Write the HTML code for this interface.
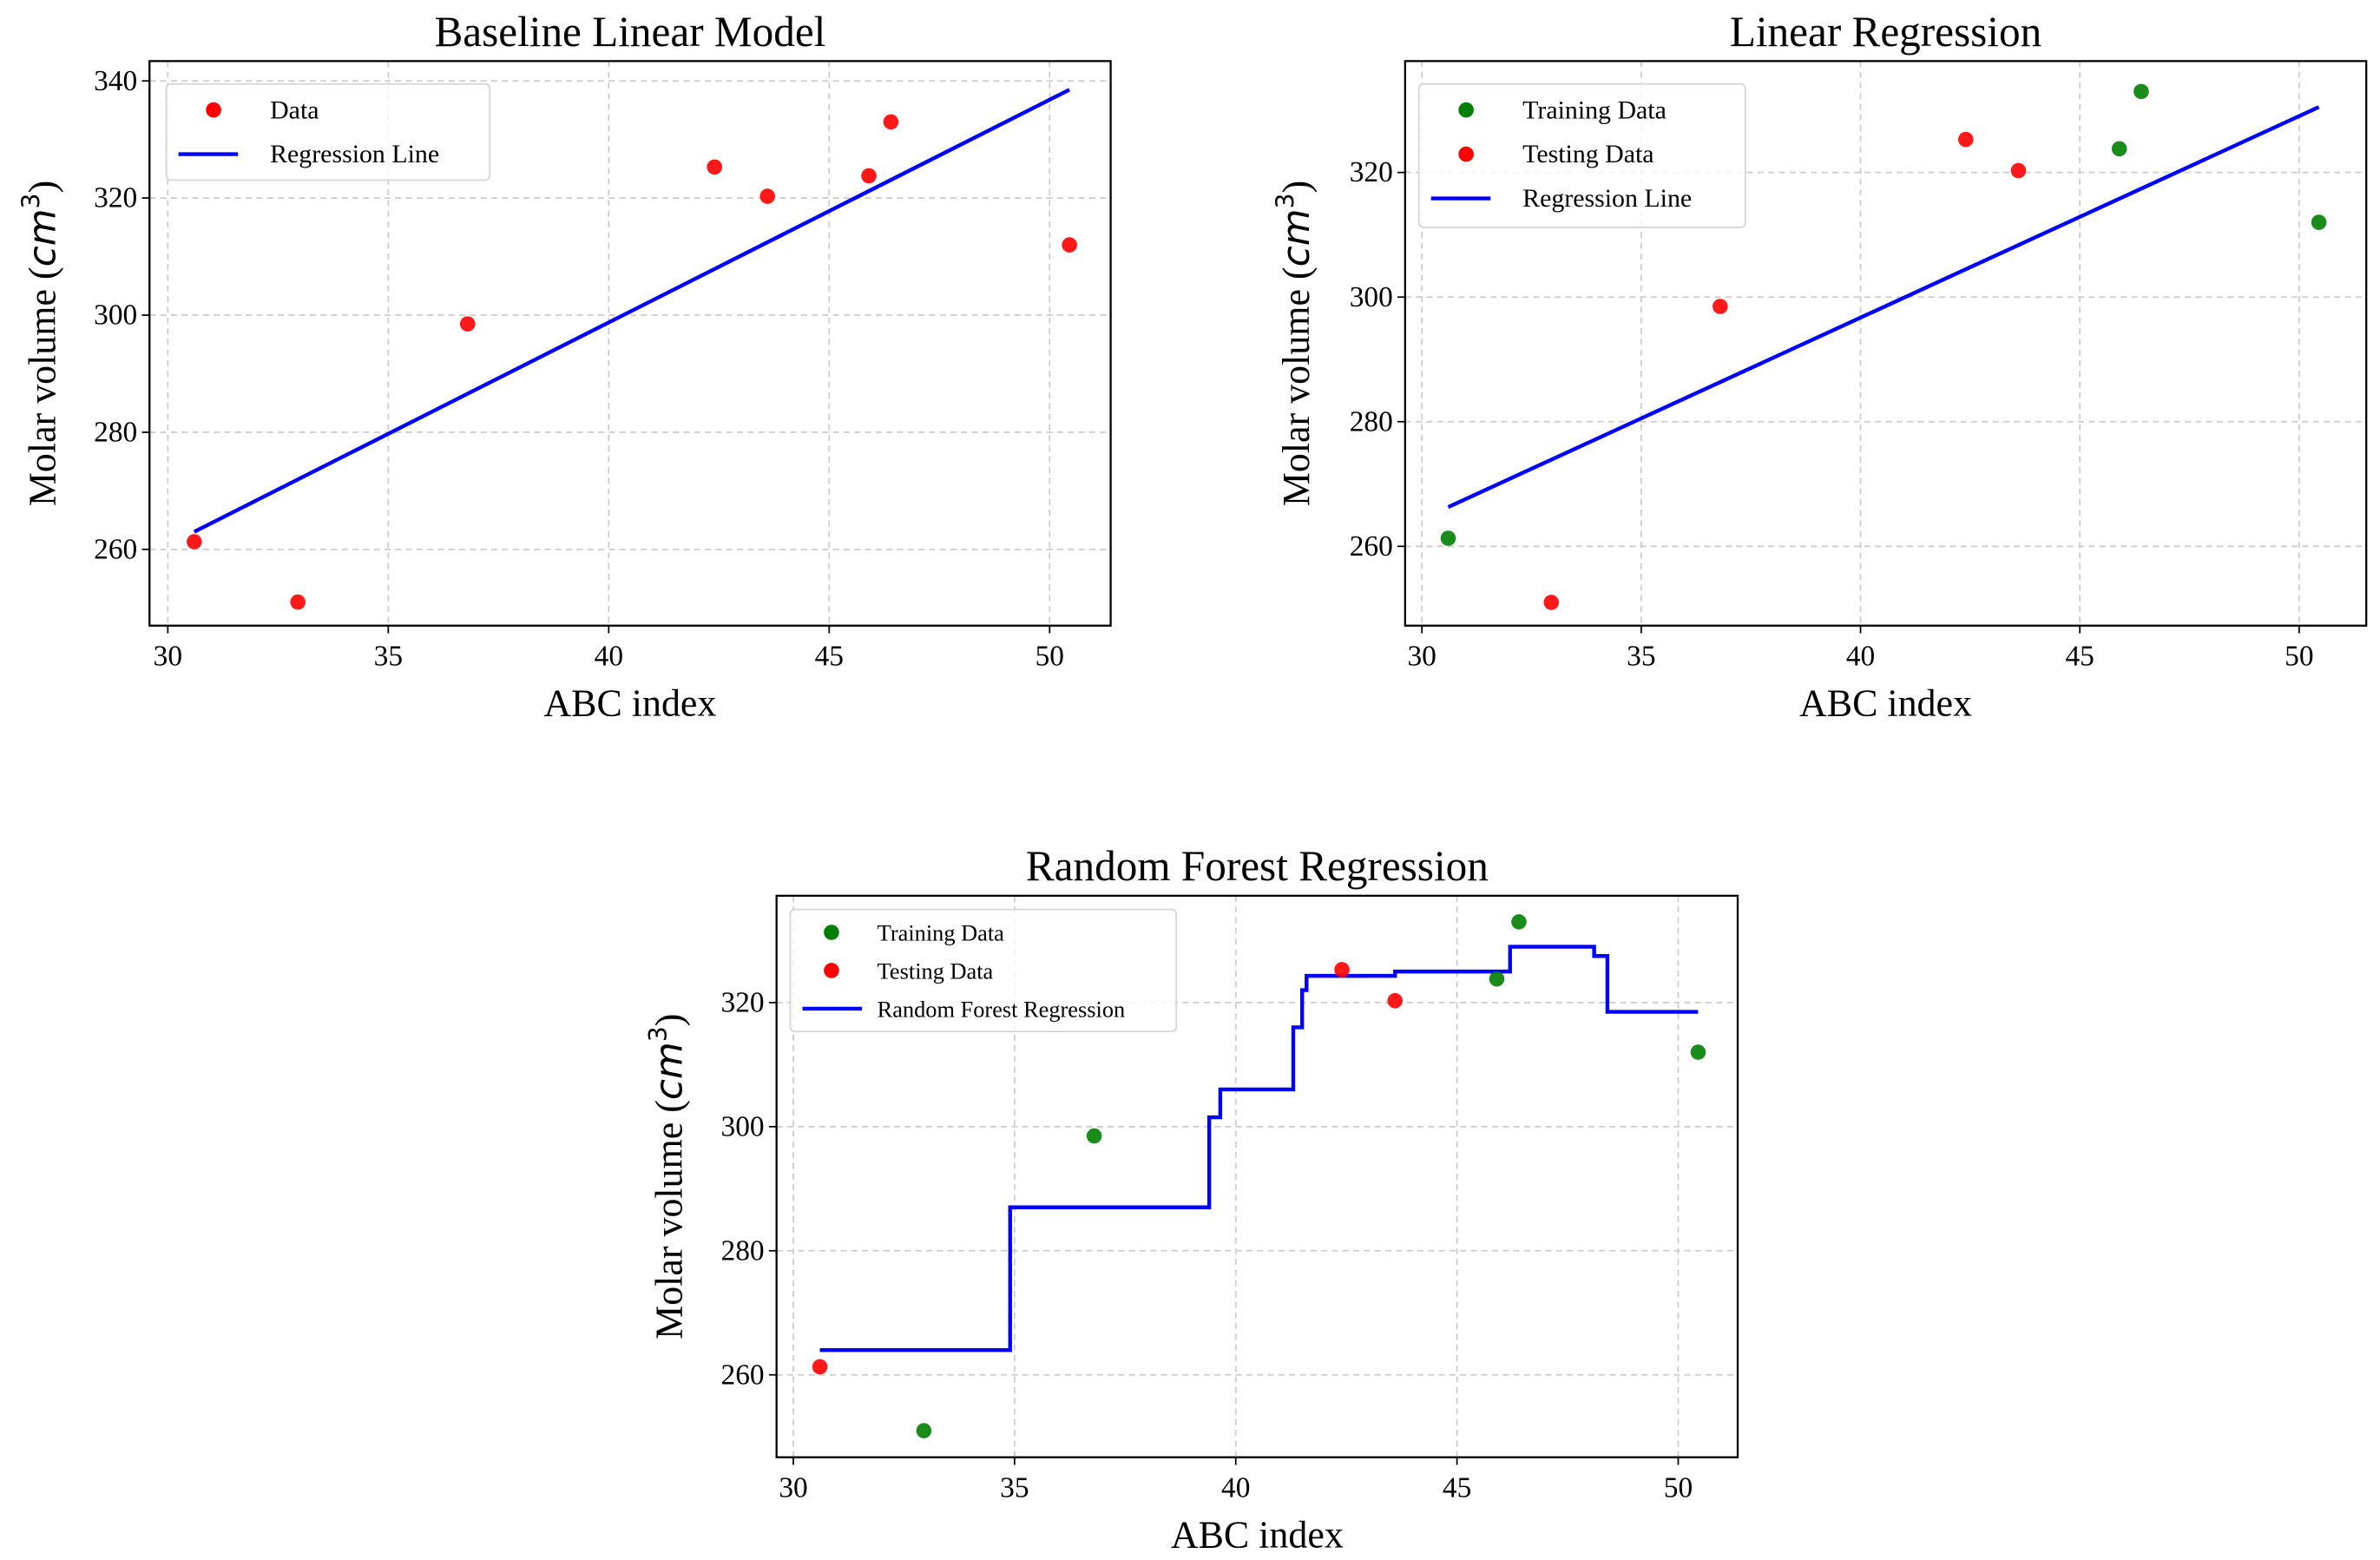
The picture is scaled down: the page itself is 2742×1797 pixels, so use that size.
<!DOCTYPE html>
<html><head><meta charset="utf-8"><style>
html,body{margin:0;padding:0;background:#fff}
svg{display:block}
text{font-family:"Liberation Serif",serif;fill:#000}
</style></head><body>
<svg id="fig" width="2742" height="1797" viewBox="0 0 1560 1022.3" xmlns="http://www.w3.org/2000/svg"></svg>
<script>
const abcIndex=[30.6,32.95,36.8,42.4,43.6,45.9,46.4,50.45];
const molarVol=[261.3,251,298.5,325.3,320.3,323.8,333,312];
const trainP2=[true,false,false,false,false,true,true,true];
const trainP3=[false,true,true,false,false,true,true,true];
const baseLineX=[30.6,50.45];
const baseLineY=[263,338.5];
const lrLineX=[30.6,50.45];
const lrLineY=[266.3,330.5];
const rfX=[30.6,34.9,39.4,39.65,41.3,41.5,41.6,43.6,46.2,48.1,48.4,50.45];
const rfY=[264,287,301.5,306,316,322,324.3,325,329,327.5,318.5,318.5];
const xTicks=[30,35,40,45,50];
const yTicksP1=[260,280,300,320,340];
const yTicksP23=[260,280,300,320];

const NS="http://www.w3.org/2000/svg";
const fig=document.getElementById('fig');
function el(tag,attrs,parent,txt){const e=document.createElementNS(NS,tag);for(const k in attrs)e.setAttribute(k,attrs[k]);if(txt!==undefined)e.textContent=txt;(parent||fig).appendChild(e);return e;}

function panel(cfg){
  const g=el('g',{});
  
  
  const {x0,x1,y0,y1}=cfg;
  const sx=v=>cfg.px30+(v-30)*(cfg.px50-cfg.px30)/20;
  const sy=v=>cfg.pyA+(v-cfg.vA)*(cfg.pyB-cfg.pyA)/(cfg.vB-cfg.vA);
  xTicks.forEach(t=>{const l=el('line',{x1:sx(t),x2:sx(t),y1:y0,y2:y1,stroke:'#ccc','stroke-width':1,'stroke-dasharray':'4,3'},g);
    });
  cfg.yTicks.forEach(t=>{const l=el('line',{x1:x0,x2:x1,y1:sy(t),y2:sy(t),stroke:'#ccc','stroke-width':1,'stroke-dasharray':'4,3'},g);
    });
  xTicks.forEach(t=>{el('line',{x1:sx(t),x2:sx(t),y1:y1,y2:y1+5,stroke:'#000','stroke-width':1},g);
    const tx=el('text',{x:sx(t),y:y1+26,'font-size':19,'text-anchor':'middle'},g,String(t));
    });
  cfg.yTicks.forEach(t=>{el('line',{x1:x0-5,x2:x0,y1:sy(t),y2:sy(t),stroke:'#000','stroke-width':1},g);
    const tx=el('text',{x:x0-8,y:sy(t)+6,'font-size':19,'text-anchor':'end'},g,String(t));
    });
  let d='';
  if(cfg.step){cfg.lx.forEach((v,i)=>{d+=(i?'L':'M')+sx(v)+' '+sy(cfg.ly[i]);if(i<cfg.lx.length-1)d+=' L'+sx(cfg.lx[i+1])+' '+sy(cfg.ly[i])+' ';});}
  else cfg.lx.forEach((v,i)=>{d+=(i?'L':'M')+sx(v)+' '+sy(cfg.ly[i])+' ';});
  const p=el('path',{d:d,fill:'none',stroke:'#0000ff','stroke-width':2.5},g);
  
  abcIndex.forEach((v,i)=>{const col=cfg.train? (cfg.train[i]?'#008000':'#ff0000'):'#ff0000';
    const c=el('circle',{cx:sx(v),cy:sy(molarVol[i]),r:5,fill:col,'fill-opacity':0.9},g);
    });
  const fr=el('rect',{x:x0,y:y0,width:x1-x0,height:y1-y0,fill:'none',stroke:'#000','stroke-width':1.3},g);
  
  const L=cfg.legend;
  const lg=el('g',{},g);
  el('rect',{x:L.x,y:L.y,width:L.w,height:L.h,rx:3,fill:'#fff','fill-opacity':0.8,stroke:'#d5d5d5','stroke-width':1},lg);
  L.items.forEach((it,i)=>{const yy=L.y+L.first+i*L.gap;
    const ent=el('g',{},lg);
    if(it.c) el('circle',{cx:L.x+L.mx,cy:yy,r:5,fill:it.c},ent);
    else el('line',{x1:L.x+8,x2:L.x+47,y1:yy,y2:yy,stroke:'#0000ff','stroke-width':2.5},ent);
    el('text',{x:L.x+L.tx,y:yy+5.5,'font-size':L.fs},ent,it.t);});
  const tt=el('text',{x:(x0+x1)/2,y:y0-10,'font-size':28,'text-anchor':'middle'},g,cfg.title);
  
  const xl=el('text',{x:(x0+x1)/2,y:y1+59,'font-size':25,'text-anchor':'middle'},g,'ABC index');
  
  const cy=(y0+y1)/2;
  const yl=el('text',{x:cfg.ylx,y:cy,'font-size':25,'text-anchor':'middle',transform:'rotate(-90 '+cfg.ylx+' '+cy+')'},g);
  
  el('tspan',{},yl,'Molar volume (');
  el('tspan',{'font-style':'italic','font-family':'DejaVu Sans, sans-serif'},yl,'cm');
  el('tspan',{dy:-10,'font-size':16,'font-family':'DejaVu Sans, sans-serif'},yl,'3');
  el('tspan',{dy:10},yl,')');
}

panel({name:'baseline-linear-panel',title:'Baseline Linear Model',x0:98,x1:728,y0:40,y1:410,px30:110,px50:688,vA:340,pyA:53,vB:260,pyB:360,
  yTicks:yTicksP1,lx:baseLineX,ly:baseLineY,train:null,ylx:36,
  legend:{x:109,y:55,w:212,h:63,first:17,gap:29,mx:31,tx:68,fs:17,items:[{c:'#ff0000',t:'Data'},{t:'Regression Line'}]}});
panel({name:'linear-regression-panel',title:'Linear Regression',x0:921,x1:1551,y0:40,y1:410,px30:932,px50:1507,vA:320,pyA:113,vB:260,pyB:358,
  yTicks:yTicksP23,lx:lrLineX,ly:lrLineY,train:trainP2,ylx:858,
  legend:{x:930,y:55,w:214,h:94,first:17,gap:29,mx:31,tx:68,fs:17,items:[{c:'#008000',t:'Training Data'},{c:'#ff0000',t:'Testing Data'},{t:'Regression Line'}]}});
panel({name:'random-forest-panel',title:'Random Forest Regression',x0:509,x1:1139,y0:587,y1:955,px30:520,px50:1100,vA:320,pyA:657,vB:260,pyB:901,
  yTicks:yTicksP23,lx:rfX,ly:rfY,step:true,train:trainP3,ylx:447,
  legend:{x:518,y:596,w:253,h:80,first:15,gap:25,mx:27,tx:57,fs:15,items:[{c:'#008000',t:'Training Data'},{c:'#ff0000',t:'Testing Data'},{t:'Random Forest Regression'}]}});
</script>
</body></html>
